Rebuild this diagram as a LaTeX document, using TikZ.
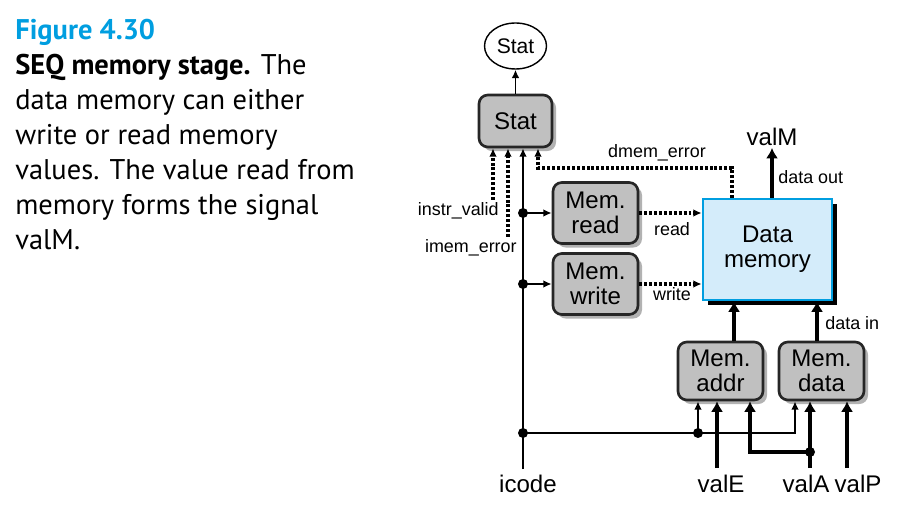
\documentclass[tikz,border=0pt]{standalone}
\usepackage{fontspec}
\setmainfont{Liberation Sans}
\newfontfamily\capfont{PT Sans}
\usetikzlibrary{arrows.meta,shadows,shapes.geometric,positioning}
\definecolor{figblue}{RGB}{0,158,224}
\definecolor{boxgray}{RGB}{192,192,192}
\definecolor{memblue}{RGB}{212,236,250}
\tikzset{
	unit/.style={draw=black!85,line width=1.5pt,rounded corners=5pt,fill=boxgray,align=center,inner sep=0pt,
		minimum width=1.7cm,minimum height=1.22cm,font=\fontsize{13.7}{14.2}\selectfont,
		drop shadow={shadow xshift=2.3pt,shadow yshift=-2.3pt,fill=black!30,opacity=1}},
	memory/.style={draw=figblue,line width=1.5pt,fill=memblue,align=center,inner sep=0pt,
		minimum width=2.58cm,minimum height=2.02cm,font=\fontsize{13.7}{14.2}\selectfont,
		drop shadow={shadow xshift=2.85pt,shadow yshift=-2.85pt,fill=black,opacity=1}},
	oval/.style={draw,ellipse,line width=0.8pt,minimum width=1.24cm,minimum height=0.92cm,inner sep=0pt,font=\fontsize{12}{12}\selectfont},
	sig/.style={inner sep=1pt,font=\fontsize{13.7}{14}\selectfont},
	lbl/.style={inner sep=0pt,font=\fontsize{10.2}{11}\selectfont},
	caption/.style={anchor=north west,align=left,inner sep=0pt,font=\capfont\fontsize{16.2}{19.9}\selectfont},
	ctl/.style={line width=1.1pt,>={Latex[length=4.8pt,width=4.4pt]}},
	flag/.style={line width=2pt,dash pattern=on 1.7pt off 1.1pt,>={Latex[length=4.8pt,width=4.4pt]}},
	bus/.style={line width=2.8pt,>={Latex[length=6pt,width=7pt]}},
	dot/.style={fill=black}
}
\begin{document}
\begin{tikzpicture}[x=0.02cm,y=-0.02cm]
\useasboundingbox (0,0) rectangle (906,523);
% caption text
\node[caption] (cap) at (15,19) {{\bfseries\color{figblue}Figure 4.30}\\
	\textbf{SEQ memory stage.} The\\
	data memory can either\\
	write or read memory\\
	values. The value read from\\
	memory forms the signal\\
	valM.};
% hardware units
\node[oval] (statout) at (515.5,46) {Stat};
\node[unit,minimum width=1.46cm,minimum height=1.04cm] (stat) at (515.5,121) {Stat};
\node[unit] (memread) at (595.5,213) {Mem.\\read};
\node[unit] (memwrite) at (595.5,284) {Mem.\\write};
\node[memory] (datamem) at (767.5,249.5) {Data\\memory};
\node[unit,minimum height=1.16cm] (memaddr) at (720.5,371) {Mem.\\addr};
\node[unit,minimum height=1.16cm] (memdata) at (821.5,371) {Mem.\\data};
% signal names
\node[sig] (icode) at (528,484) {icode};
\node[sig] (valE) at (721,484) {valE};
\node[sig] (valA) at (806,484) {valA};
\node[sig] (valP) at (858,484) {valP};
\node[sig] (valM) at (772,137) {valM};
\node[lbl,anchor=east] (ivlbl) at (499,211) {instr\_valid};
\node[lbl,anchor=east] (ielbl) at (517,248) {imem\_error};
\node[lbl] (dmlbl) at (657,153) {dmem\_error};
\node[lbl] (rdlbl) at (672,229) {read};
\node[lbl] (wrlbl) at (672,294) {write};
\node[lbl,anchor=west] (dolbl) at (778,177) {data out};
\node[lbl,anchor=west] (dilbl) at (825,323) {data in};
% free ends and bends
\coordinate (ic0) at (523,469);
\coordinate (iv0) at (493,200);
\coordinate (ie0) at (508,237);
\coordinate (dm0) at (732,168);
\coordinate (dm1) at (538,168);
\coordinate (j1) at (523,433);
\coordinate (j2) at (698,433);
\coordinate (j3) at (795,433);
\coordinate (ve0) at (717,468);
\coordinate (va0) at (810,468);
\coordinate (vp0) at (847,468);
\coordinate (ja) at (810,452);
\coordinate (jb) at (750,452);
\coordinate (xad) at (734,0);
\coordinate (xdt) at (817,0);
% Stat
\draw[ctl,->] (stat.north) -- (statout.south);
\draw[ctl,->] (ic0) -- (ic0 |- stat.south);
\draw[flag,->] (iv0) -- (iv0 |- stat.south);
\draw[flag,->] (ie0) -- (ie0 |- stat.south);
\draw[flag,->] (dm0 |- datamem.north) -- (dm0) -- (dm1) -- (dm1 |- stat.south);
% icode to control blocks
\fill[dot] (ic0 |- memread.west) circle (0.1cm);
\draw[ctl,->] (ic0 |- memread.west) -- (memread.west);
\fill[dot] (ic0 |- memwrite.west) circle (0.1cm);
\draw[ctl,->] (ic0 |- memwrite.west) -- (memwrite.west);
\fill[dot] (j1) circle (0.1cm);
\fill[dot] (j2) circle (0.1cm);
\draw[ctl,->] (j1) -- (j3) -- (j3 |- memdata.south);
\draw[ctl,->] (j2) -- (j2 |- memaddr.south);
% read / write
\draw[flag,->] (memread.east) -- (memread.east -| datamem.west);
\draw[flag,->] (memwrite.east) -- (memwrite.east -| datamem.west);
% data paths
\draw[bus,->] (ve0) -- (ve0 |- memaddr.south);
\draw[bus,->] (va0) -- (va0 |- memdata.south);
\fill[dot] (ja) circle (0.1cm);
\draw[bus,->] (ja) -- (jb) -- (jb |- memaddr.south);
\draw[bus,->] (vp0) -- (vp0 |- memdata.south);
\draw[bus,->] (memaddr.north -| xad) -- (xad |- datamem.south);
\draw[bus,->] (memdata.north -| xdt) -- (xdt |- datamem.south);
\draw[bus,->] (datamem.north -| valM) -- (valM.south);
\end{tikzpicture}
\end{document}
